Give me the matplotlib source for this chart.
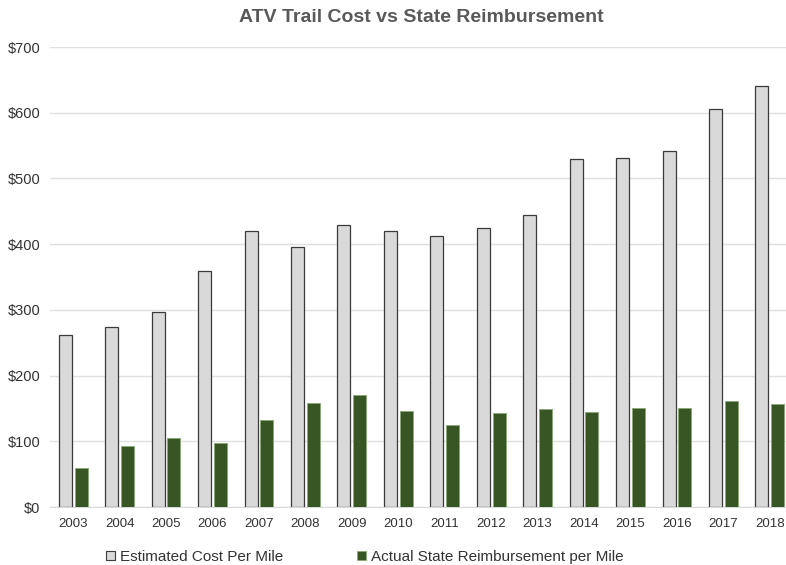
import matplotlib
matplotlib.use("Agg")
import matplotlib.pyplot as plt
import numpy as np
from matplotlib.ticker import FuncFormatter
from matplotlib.patches import Patch

years = ["2003", "2004", "2005", "2006", "2007", "2008", "2009", "2010",
         "2011", "2012", "2013", "2014", "2015", "2016", "2017", "2018"]
estimated_cost = [262, 274, 297, 359, 420, 396, 429, 420, 412, 425, 445, 530, 531, 542, 606, 640]
state_reimb = [59, 93, 105, 97, 132, 159, 170, 146, 125, 143, 149, 145, 151, 150, 161, 157]
series_names = ["Estimated Cost Per Mile", "Actual State Reimbursement per Mile"]

plt.rcParams['font.family'] = ['Liberation Sans', 'DejaVu Sans']

fig = plt.figure(figsize=(7.86, 5.65), dpi=100)
W, H = 786, 565
x0, x1 = 50, 793
y0, y1 = 507, 47
ax = fig.add_axes([x0 / W, 1 - y0 / H, (x1 - x0) / W, (y0 - y1) / H])

x = np.arange(len(years))
bw = 0.28
off = 0.17
ax.bar(x - off, estimated_cost, bw, color='#d9d9d9', edgecolor='#3a3a3a', linewidth=0.9, zorder=3)
ax.bar(x + off, state_reimb, bw, color='#375623', edgecolor='#8aa878', linewidth=0.6, zorder=3)

ax.set_xlim(-0.5, len(years) - 0.5)
ax.set_ylim(0, 700)
ax.set_yticks(range(0, 701, 100))
ax.yaxis.set_major_formatter(FuncFormatter(lambda v, p: f"${int(v)}"))
ax.set_xticks(x)
ax.set_xticklabels(years)
ax.grid(axis='y', color='#e0e0e0', linewidth=1, zorder=0)
for s in ['top', 'right', 'left']:
    ax.spines[s].set_visible(False)
ax.spines['bottom'].set_color('#d9d9d9')
ax.tick_params(axis='both', length=0, colors='#333333')
ax.tick_params(axis='y', pad=7, labelsize=10.5)
ax.tick_params(axis='x', pad=8, labelsize=9.5)

fig.text((x0 + x1) / 2 / W, 1 - 18 / H, "ATV Trail Cost vs State Reimbursement",
         ha='center', va='center', fontsize=14, fontweight='bold', color='#595959')

handles = [Patch(facecolor='#d9d9d9', edgecolor='#3a3a3a', linewidth=0.8),
           Patch(facecolor='#375623', edgecolor='#8aa878', linewidth=0.6)]
fig.legend(handles, series_names, loc='center left', bbox_to_anchor=(92 / W, 1 - 557 / H),
           ncol=2, frameon=False, fontsize=11, handlelength=0.6, handleheight=0.6,
           handletextpad=0.35, columnspacing=4.8, labelcolor='#333333')

fig.savefig("out.png", dpi=100)
